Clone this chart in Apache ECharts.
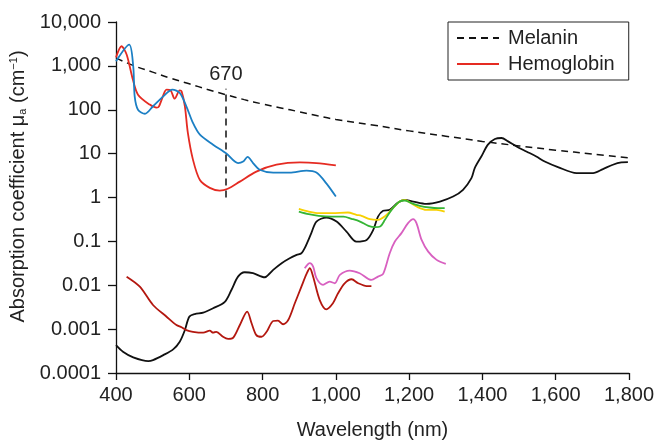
<!DOCTYPE html>
<html>
<head>
<meta charset="utf-8">
<script src="https://cdn.jsdelivr.net/npm/echarts@6/dist/echarts.min.js"></script>
<style>html,body{margin:0;padding:0;background:#fff}#c{width:658px;height:440px}</style>
</head>
<body>
<div id="c"></div>
<script>
// ---- data (wavelength nm, absorption coefficient cm^-1) ----
const xTicks = [400, 600, 800, 1000, 1200, 1400, 1600, 1800];
const xTickLabels = ['400', '600', '800', '1,000', '1,200', '1,400', '1,600', '1,800'];
const yTickLabels = ['0.0001', '0.001', '0.01', '0.1', '1', '10', '100', '1,000', '10,000'];

const melaninData = [[400,1500],[450,1000],[500,720],[550,520],[600,390],[650,290],[700,220],[750,170],[800,135],[850,110],[900,90],[950,73],[1000,60],[1100,45],[1200,33],[1300,25],[1400,19],[1500,15],[1600,12],[1700,9.8],[1800,8.0]];

const hbO2Data = [[400,1550],[415,2800],[429,1810],[446,487],[460,221],[492,131],[511,112],[517,118],[533,259],[538,288],[549,277],[560,179],[574,277],[579,263],[588,120],[596,30],[610,7.3],[629,2.5],[656,1.66],[683,1.44],[705,1.58],[738,2.3],[783,3.9],[838,5.6],[902,6.3],[947,6.1],[1000,5.4]];

const hbData = [[400,1270],[436,3060],[447,980],[451,202],[460,100],[479,81],[501,120],[529,202],[554,288],[574,242],[592,120],[610,50],[629,27],[665,16],[702,9.95],[733,6.1],[747,6.6],[759,8.4],[774,6.1],[792,4.3],[829,3.7],[874,3.7],[920,4.1],[947,3.7],[974,2.1],[1000,1.05]];

const waterData = [[400,4.3e-4],[419,3.05e-4],[447,2.27e-4],[488,1.87e-4],[501,1.97e-4],[529,2.56e-4],[556,3.46e-4],[574,5.16e-4],[588,9.5e-4],[600,1.92e-3],[615,2.21e-3],[638,2.37e-3],[665,2.98e-3],[697,4.2e-3],[715,7.8e-3],[733,0.0157],[751,0.0198],[774,0.0188],[806,0.0152],[820,0.0188],[829,0.0224],[852,0.0318],[874,0.0413],[893,0.0492],[906,0.0538],[915,0.070],[933,0.154],[947,0.283],[974,0.349],[1002,0.283],[1029,0.167],[1056,0.099],[1084,0.108],[1102,0.183],[1115,0.368],[1129,0.497],[1147,0.524],[1170,0.769],[1188,0.886],[1211,0.81],[1247,0.718],[1284,0.81],[1320,1.05],[1347,1.5],[1370,2.77],[1379,4.69],[1397,8.6],[1415,16],[1434,21.5],[1452,22.7],[1470,19],[1493,14.6],[1520,11.2],[1547,8.6],[1570,6.6],[1606,4.94],[1657,3.6],[1702,3.6],[1729,4.45],[1756,5.58],[1779,6.3],[1797,6.4]];

const lipidData = [[429,0.0157],[465,9.3e-3],[501,3.55e-3],[538,1.92e-3],[565,1.24e-3],[579,1.1e-3],[592,9.5e-4],[610,8.7e-4],[638,8.3e-4],[656,9.2e-4],[665,8.3e-4],[674,8.7e-4],[692,6.7e-4],[706,6.0e-4],[720,6.4e-4],[738,1.24e-3],[758,2.5e-3],[770,1.36e-3],[783,7.3e-4],[797,6.7e-4],[811,8.7e-4],[829,1.53e-3],[842,1.56e-3],[856,1.29e-3],[870,1.61e-3],[888,3.88e-3],[906,9.3e-3],[920,0.0181],[929,0.0244],[938,0.0157],[956,4.6e-3],[974,2.83e-3],[992,3.88e-3],[1006,6.56e-3],[1024,0.0111],[1043,0.0137],[1061,0.0111],[1084,9.6e-3],[1097,9.6e-3]];

const pinkData = [[915,0.0244],[929,0.0318],[938,0.0266],[947,0.0145],[965,0.0102],[983,0.0121],[997,0.0111],[1011,0.0172],[1038,0.0216],[1065,0.0188],[1097,0.0132],[1115,0.0157],[1129,0.0181],[1147,0.0538],[1161,0.099],[1179,0.154],[1197,0.26],[1211,0.321],[1220,0.26],[1234,0.108],[1252,0.0585],[1275,0.0379],[1300,0.0306]];

const yellowData = [[899,0.552],[926,0.479],[953,0.44],[989,0.44],[1033,0.455],[1056,0.403],[1070,0.382],[1093,0.321],[1115,0.31],[1133,0.368],[1156,0.573],[1174,0.81],[1188,0.886],[1202,0.769],[1220,0.623],[1247,0.524],[1275,0.524],[1297,0.479]];

const greenData = [[899,0.479],[926,0.418],[953,0.382],[989,0.368],[1021,0.368],[1043,0.327],[1066,0.283],[1089,0.226],[1107,0.211],[1121,0.218],[1134,0.31],[1152,0.524],[1174,0.81],[1188,0.855],[1206,0.745],[1229,0.647],[1256,0.592],[1279,0.573],[1297,0.573]];

const markerX = 700, markerLow = 1, markerHigh = 300, markerLabel = '670';

// ---- chart ----
const FONT = '"Liberation Sans", Arial, sans-serif';
const chart = echarts.init(document.getElementById('c'), null, {renderer: 'canvas'});
function ln(name, data, color, extra) {
  return Object.assign({
    name, type: 'line', data, showSymbol: false, symbol: 'none', smooth: 0.3,
    lineStyle: {color, width: 1.8}, itemStyle: {color}, z: 3, animation: false
  }, extra || {});
}
chart.setOption({
  animation: false,
  grid: {left: 116, right: 29, top: 22, bottom: 67, outerBoundsMode: 'none', containLabel: false},
  legend: {
    data: ['Melanin', 'Hemoglobin'], orient: 'vertical', left: 448, top: 22,
    padding: [6, 14, 6, 8], itemGap: 6, itemWidth: 42, itemHeight: 14,
    borderColor: '#222', borderWidth: 1, backgroundColor: '#fff',
    itemStyle: {opacity: 0},
    textStyle: {fontFamily: FONT, fontSize: 20, color: '#222', padding: [0, 0, 0, 4]}
  },
  xAxis: {
    type: 'value', min: 400, max: 1800, interval: 200,
    name: 'Wavelength (nm)', nameLocation: 'middle', nameGap: 47,
    nameTextStyle: {fontFamily: FONT, fontSize: 20, color: '#222'},
    axisLine: {lineStyle: {color: '#111', width: 1.3}},
    axisTick: {length: 7, lineStyle: {color: '#111', width: 1.3}},
    splitLine: {show: false},
    axisLabel: {fontFamily: FONT, fontSize: 20, color: '#222', margin: 12,
      formatter: v => { const i = xTicks.indexOf(v); return i >= 0 ? xTickLabels[i] : ''; }}
  },
  yAxis: {
    type: 'log', logBase: 10, min: 0.0001, max: 10000,
    name: 'Absorption coefficient μ{sub|a} (cm{sup|−1})', nameLocation: 'middle', nameGap: 74,
    nameTextStyle: {fontFamily: FONT, fontSize: 20, color: '#222', padding: [0, 0, 0, 22],
      rich: {
        sub: {fontFamily: FONT, fontSize: 11, color: '#222', verticalAlign: 'bottom', lineHeight: 12},
        sup: {fontFamily: FONT, fontSize: 11, color: '#222', verticalAlign: 'top', lineHeight: 12}
      }},
    axisLine: {show: true, lineStyle: {color: '#111', width: 1.3}},
    axisTick: {show: true, length: 8, lineStyle: {color: '#111', width: 1.3}},
    splitLine: {show: false},
    axisLabel: {fontFamily: FONT, fontSize: 20, color: '#222', margin: 15,
      formatter: v => yTickLabels[Math.round(Math.log10(v)) + 4]}
  },
  series: [
    ln('Melanin', melaninData, '#111', {smooth: 0.4, lineStyle: {color: '#111', width: 1.5, type: [7, 5]},
      markLine: {
        silent: true, symbol: 'none', animation: false,
        lineStyle: {color: '#111', width: 1.5, type: [7, 5]},
        label: {show: true, position: 'end', formatter: markerLabel, fontFamily: FONT, fontSize: 20, color: '#222', distance: 4},
        data: [[{coord: [markerX, markerLow]}, {coord: [markerX, markerHigh]}]]
      }}),
    ln('Hemoglobin', hbO2Data, '#e52b22'),
    ln('Deoxyhemoglobin', hbData, '#1b7fc4'),
    ln('Water', waterData, '#111'),
    ln('Lipid', lipidData, '#b3170f'),
    ln('Collagen', pinkData, '#d860c0'),
    ln('Yellow', yellowData, '#f7d000'),
    ln('Green', greenData, '#35b535')
  ]
});
</script>
</body>
</html>
